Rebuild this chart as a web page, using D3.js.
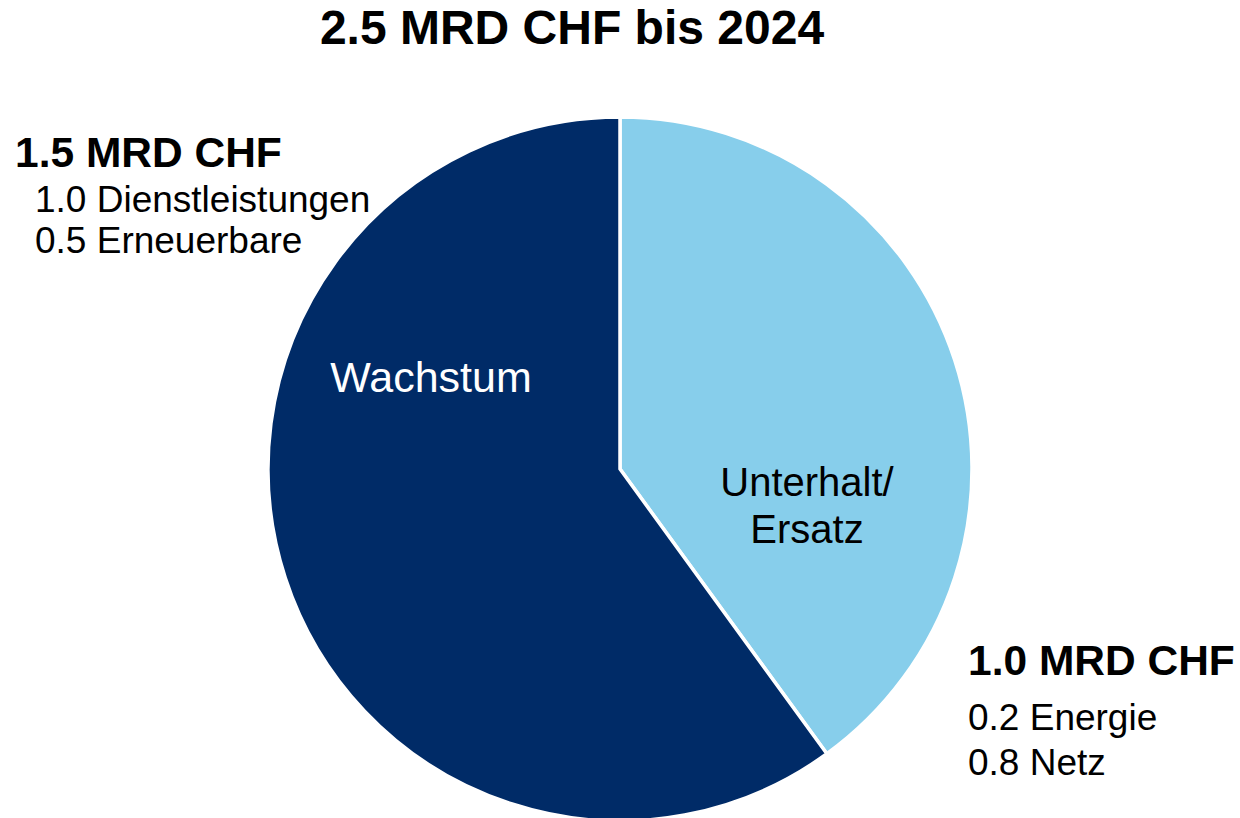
<!DOCTYPE html>
<html>
<head>
<meta charset="utf-8">
<title>2.5 MRD CHF bis 2024</title>
<script src="https://d3js.org/d3.v7.min.js"></script>
<style>
  body { margin:0; background:#fff; }
  svg { display:block; font-family: "Liberation Sans", Arial, sans-serif; }
</style>
</head>
<body>
<script>
// data
var categories = ["Unterhalt/Ersatz", "Wachstum"];
var values = [1.0, 1.5];
var colors = ["#87CEEB", "#002B67"];
var textColors = ["#000", "#fff"];
var innerLabels = [["Unterhalt/", "Ersatz"], ["Wachstum"]];
var headLabels = ["1.0 MRD CHF", "1.5 MRD CHF"];
var subLabels = [["0.2 Energie", "0.8 Netz"], ["1.0 Dienstleistungen", "0.5 Erneuerbare"]];
var title = "2.5 MRD CHF bis 2024";

var width = 1240, height = 818;
var cx = 620, cy = 469, radius = 352;

var svg = d3.select("body").append("svg")
    .attr("width", width)
    .attr("height", height);

svg.append("text")
    .attr("x", 572)
    .attr("y", 44)
    .attr("text-anchor", "middle")
    .style("font-size", "48px")
    .style("font-weight", "bold")
    .text(title);

var pie = d3.pie().sort(null).value(function(d) { return d; });
var arc = d3.arc().innerRadius(0).outerRadius(radius);

var g = svg.append("g").attr("transform", "translate(" + cx + "," + cy + ")");

g.selectAll("path")
    .data(pie(values))
  .enter().append("path")
    .attr("d", arc)
    .attr("fill", function(d, i) { return colors[i]; })
    .attr("stroke", "#fff")
    .attr("stroke-width", 3.5)
    .attr("stroke-linejoin", "miter");

// inner labels (placed like the original, not at centroids)
var innerPos = [[187, 36], [-189, -91]];
var innerSize = [40, 43];
var innerLine = 47;
g.selectAll("text.inner")
    .data(innerLabels)
  .enter().append("text")
    .attr("class", "inner")
    .attr("text-anchor", "middle")
    .attr("fill", function(d, i) { return textColors[i]; })
    .style("font-size", function(d, i) { return innerSize[i] + "px"; })
    .each(function(lines, i) {
      var t = d3.select(this);
      lines.forEach(function(l, k) {
        t.append("tspan")
          .attr("x", innerPos[i][0])
          .attr("y", innerPos[i][1] + k * innerLine - (lines.length - 1) * innerLine / 2 + 14)
          .text(l);
      });
    });

// outer annotations
var annoPos = [{x: 968, y: 675, sx: 968, sy: 730, step: 45},
               {x: 15, y: 167, sx: 35, sy: 212, step: 41}];
annoPos.forEach(function(p, i) {
  svg.append("text")
      .attr("x", p.x)
      .attr("y", p.y)
      .style("font-size", "42.5px")
      .style("font-weight", "bold")
      .text(headLabels[i]);
  subLabels[i].forEach(function(s, k) {
    svg.append("text")
        .attr("x", p.sx)
        .attr("y", p.sy + k * p.step)
        .style("font-size", "37px")
        .text(s);
  });
});
</script>
</body>
</html>
